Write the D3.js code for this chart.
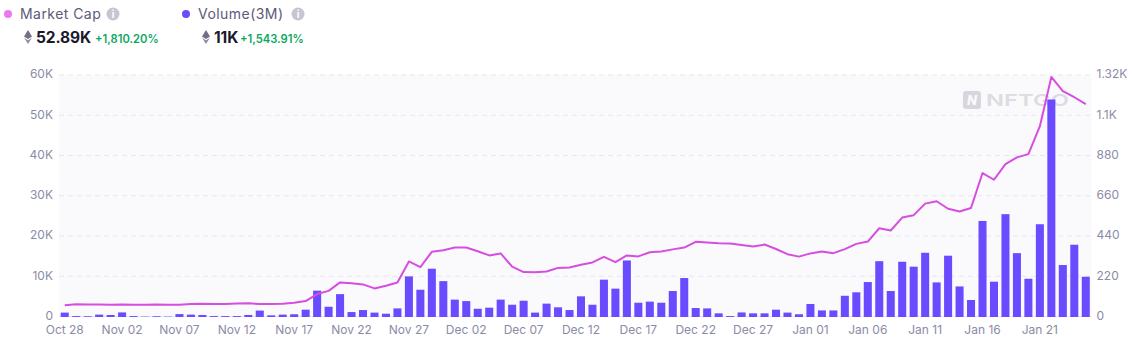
<!DOCTYPE html>
<html><head><meta charset="utf-8">
<script src="https://cdn.jsdelivr.net/npm/d3@7/dist/d3.min.js"></script>
<style>
html,body{margin:0;padding:0;background:#fff;}
svg{display:block;font-family:Inter,"Open Sans",sans-serif;}
.axis path,.axis line{display:none;}
.axis text{fill:#8a8ba6;font-size:12px;font-family:Inter,sans-serif;}
</style></head><body>
<svg id="c" width="1135" height="356"></svg>
<script>
const categories = ["Oct 28","Oct 29","Oct 30","Oct 31",
"Nov 01","Nov 02","Nov 03","Nov 04","Nov 05","Nov 06","Nov 07","Nov 08","Nov 09","Nov 10","Nov 11","Nov 12","Nov 13","Nov 14","Nov 15","Nov 16","Nov 17","Nov 18","Nov 19","Nov 20","Nov 21","Nov 22","Nov 23","Nov 24","Nov 25","Nov 26","Nov 27","Nov 28","Nov 29","Nov 30",
"Dec 01","Dec 02","Dec 03","Dec 04","Dec 05","Dec 06","Dec 07","Dec 08","Dec 09","Dec 10","Dec 11","Dec 12","Dec 13","Dec 14","Dec 15","Dec 16","Dec 17","Dec 18","Dec 19","Dec 20","Dec 21","Dec 22","Dec 23","Dec 24","Dec 25","Dec 26","Dec 27","Dec 28","Dec 29","Dec 30","Dec 31",
"Jan 01","Jan 02","Jan 03","Jan 04","Jan 05","Jan 06","Jan 07","Jan 08","Jan 09","Jan 10","Jan 11","Jan 12","Jan 13","Jan 14","Jan 15","Jan 16","Jan 17","Jan 18","Jan 19","Jan 20","Jan 21","Jan 22","Jan 23","Jan 24","Jan 25"];
const marketCap = [2890,3140,3100,3100,3050,3100,3060,3060,3100,3050,3050,3200,3280,3240,3240,3350,3400,3200,3200,3280,3550,3950,5700,6500,8600,8400,8100,7100,7760,8590,13800,12400,16200,16600,17260,17260,16350,15300,15800,12500,11150,11100,11300,12200,12300,13000,13550,14950,13630,15300,15050,16100,16300,16800,17260,18670,18500,18340,18250,17900,17500,18000,16900,15600,15000,15800,16300,15860,16850,18170,18750,22050,21500,24700,25300,28170,28750,26900,26200,27100,35770,34100,38000,39650,40470,47400,59640,56100,54600,52890];
const volume = [24,5,4,13,11,25,5,2,4,2,16,13,11,5,5,5,11,35,9,13,15,40,144,56,125,27,38,24,18,47,222,149,264,196,95,87,45,51,95,67,89,24,73,53,38,113,67,204,155,309,78,84,78,142,213,49,47,20,5,25,20,20,40,24,15,71,36,36,116,135,191,305,142,302,275,351,189,335,167,93,525,193,562,349,209,507,1189,284,395,220];
const xTickLabels = ["Oct 28","Nov 02","Nov 07","Nov 12","Nov 17","Nov 22","Nov 27","Dec 02","Dec 07","Dec 12","Dec 17","Dec 22","Dec 27","Jan 01","Jan 06","Jan 11","Jan 16","Jan 21"];
const leftTicks = [0,10000,20000,30000,40000,50000,60000];
const rightTicks = [0,220,440,660,880,1100,1320];
const legendNames = ["Market Cap","Volume(3M)"];
const legendValues = ["52.89K","11K"];
const legendChanges = ["+1,810.20%","+1,543.91%"];

const svg = d3.select("#c");
const m = {l:59,r:1091.5,t:75,b:316.5};
const x = d3.scaleBand().domain(categories).range([m.l,m.r]).paddingInner(0.3).paddingOuter(0.15);
const yL = d3.scaleLinear().domain([0,60000]).range([m.b,m.t]);
const yR = d3.scaleLinear().domain([0,1320]).range([m.b,m.t]);
const cx = d => x(d)+x.bandwidth()/2;

svg.append("rect").attr("x",m.l).attr("y",m.t).attr("width",m.r-m.l).attr("height",m.b-m.t).attr("fill","#fafafd");

svg.append("g").selectAll("line").data(leftTicks).join("line")
  .attr("x1",m.l).attr("x2",m.r).attr("y1",d=>yL(d)).attr("y2",d=>yL(d))
  .attr("stroke","#e6e6f0").attr("stroke-width",1).attr("stroke-dasharray",d=>d===0?null:"5 4");

// watermark
const wm = svg.append("g");
wm.append("rect").attr("x",963).attr("y",91).attr("width",18).attr("height",18).attr("rx",3).attr("fill","#d6d6dc");
wm.append("text").attr("x",972).attr("y",105).attr("text-anchor","middle").attr("fill","#fafafd")
  .attr("font-size",13).attr("font-weight",800).attr("font-style","italic").text("N");
wm.append("text").attr("x",986).attr("y",105.5).attr("fill","#dcdce2").attr("font-size",16.5)
  .attr("font-weight",600).attr("textLength",83).attr("lengthAdjust","spacingAndGlyphs").text("NFTGO");

const marks = svg.append("g").attr("transform","translate(0,0.5)");
marks.append("g").selectAll("rect").data(categories).join("rect")
  .attr("x",d=>x(d)).attr("width",x.bandwidth())
  .attr("y",(d,i)=>yR(volume[i])).attr("height",(d,i)=>m.b-yR(volume[i]))
  .attr("fill","#6a4bff");

const line = d3.line().x((d,i)=>cx(categories[i])).y(d=>yL(d));
marks.append("path").attr("d",line(marketCap)).attr("fill","none").attr("stroke","#d54ee0").attr("stroke-width",2).attr("stroke-linejoin","round");

svg.append("g").attr("class","axis").attr("transform",`translate(0,${m.b})`)
  .call(d3.axisBottom(x).tickValues(xTickLabels).tickSize(0).tickPadding(9));
const fmtK = d=> d===0?"0":(d/1000)+"K";
svg.append("g").attr("class","axis").attr("transform",`translate(${m.l},-1)`)
  .call(d3.axisLeft(yL).tickValues(leftTicks).tickFormat(fmtK).tickSize(0).tickPadding(6));
svg.append("g").attr("class","axis").attr("transform",`translate(${m.r},-1)`)
  .call(d3.axisRight(yR).tickValues(rightTicks).tickFormat(d=>d>=1000?(d/1000)+"K":d).tickSize(0).tickPadding(5));

// legend
const legendX = [0,178];
const legendColor = ["#ee77ee","#6a4bff"];
const infoX = [113,298];
const valueChangeX = [95,240];
legendNames.forEach((n,i)=>{
  const g = svg.append("g").attr("transform",`translate(${legendX[i]},0)`);
  g.append("circle").attr("cx",8).attr("cy",14).attr("r",4).attr("fill",legendColor[i]);
  g.append("text").attr("x",20).attr("y",19).attr("font-size",14).attr("letter-spacing",0.45).attr("fill","#5b5b78").text(n);
  svg.append("circle").attr("cx",infoX[i]).attr("cy",14).attr("r",6.5).attr("fill","#c5c6d2");
  svg.append("text").attr("x",infoX[i]).attr("y",18).attr("text-anchor","middle").attr("font-size",10).attr("font-weight",700).attr("fill","#fff").text("i");
  // eth glyph
  const e = g.append("g").attr("transform","translate(28,37)").attr("fill","#6f6f86");
  e.append("path").attr("d","M0,-7 L4,-0.5 L0,2 L-4,-0.5 Z");
  e.append("path").attr("d","M0,3.2 L4,0.8 L0,7 L-4,0.8 Z").attr("fill","#8f8fa3");
  g.append("text").attr("x",36).attr("y",42.5).attr("font-size",15.5).attr("font-weight",700).attr("letter-spacing",-0.1).attr("fill","#1a1a2c").text(legendValues[i]);
  svg.append("text").attr("x",valueChangeX[i]).attr("y",43).attr("font-size",11.2).attr("font-weight",600).attr("fill","#0ba760").text(legendChanges[i]);
});
</script></body></html>
